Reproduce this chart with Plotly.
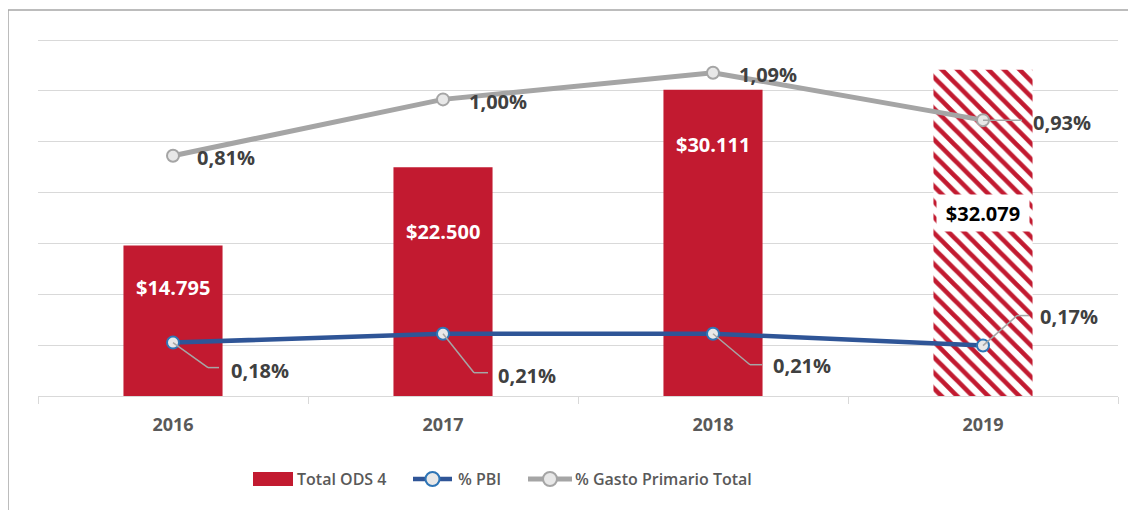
import plotly.graph_objects as go

# ---- data ----
years = ["2016", "2017", "2018", "2019"]
total_ods4 = [14795, 22500, 30111, 32079]
total_labels = ["$14.795", "$22.500", "$30.111", "$32.079"]
pct_pbi = [0.18, 0.21, 0.21, 0.17]
pct_gasto = [0.81, 1.00, 1.09, 0.93]
series_names = ["Total ODS 4", "% PBI", "% Gasto Primario Total"]

# ---- styles ----
RED = "#C21A30"
BLUE = "#2F5597"
BLUE_MK = "#2E75B6"
GRAY = "#A5A5A5"
MK_FILL = "#E8E8E8"
FONT = "Open Sans"
Y_TOP = 35300
PLOT_W = 1080.0
PLOT_H = 356.0 * Y_TOP / 35000
Y2_TOP = 1.2 * Y_TOP / 35000
PX_X = PLOT_W / 4          # px per category
PX_Y2 = PLOT_H / Y2_TOP    # px per percentage unit
bar_label_frac = [0.72, 0.72, 0.82, 0.56]
pbi_label_off = [(56, -28), (53, -42), (58, -32), (55, 29)]
gasto_label_off = [(22, -2), (24, -2), (24, -2), (48, -2)]
pbi_leader = [(35, -25, 46), (31, -39, 45), (37, -31, 49), (34, 30, 46)]
gasto_leader = [None, None, None, (0, 0, 39)]
# custom legend layout (px relative to plot-area left edge / bottom edge)
LEG_Y = -83
leg_rect = (215, 255)
leg_blue = (375, 414)
leg_gray = (490, 534)
leg_text_x = [257, 418, 535]
BORDER_ABOVE = 386  # px from plot bottom to top border line

fig = go.Figure()

fig.add_trace(go.Bar(
    x=years, y=total_ods4, name=series_names[0],
    width=0.367,
    marker=dict(
        color=RED, line=dict(width=0),
        pattern=dict(shape=["", "", "", "\\"], fgcolor=RED, bgcolor="white",
                     size=11, solidity=0.42, fillmode="replace"),
    ),
    hoverinfo="skip",
))

fig.add_trace(go.Scatter(
    x=years, y=pct_pbi, name=series_names[1], yaxis="y2", mode="lines+markers",
    line=dict(color=BLUE, width=4.5),
    marker=dict(size=12, color=MK_FILL, line=dict(color=BLUE_MK, width=2)),
))

fig.add_trace(go.Scatter(
    x=years, y=pct_gasto, name=series_names[2], yaxis="y2", mode="lines+markers",
    line=dict(color=GRAY, width=5),
    marker=dict(size=12, color=MK_FILL, line=dict(color=GRAY, width=2)),
))

annotations = []
shapes = []

def fmt(v):
    return f"{v:.2f}".replace(".", ",") + "%"

for i, yr in enumerate(years):
    if i < 3:
        annotations.append(dict(
            x=i, y=total_ods4[i] * bar_label_frac[i], xref="x", yref="y",
            text=total_labels[i], showarrow=False,
            font=dict(family=FONT, size=20, color="white", weight="bold"),
        ))
    else:
        annotations.append(dict(
            x=i, y=total_ods4[i] * bar_label_frac[i], xref="x", yref="y",
            text=total_labels[i], showarrow=False, bgcolor="white",
            width=90, height=34,
            font=dict(family=FONT, size=20, color="black", weight="bold"),
        ))
    dx, dy = pbi_label_off[i]
    annotations.append(dict(
        x=i, y=pct_pbi[i], xref="x", yref="y2", text=fmt(pct_pbi[i]),
        showarrow=False, xanchor="left", yanchor="middle", xshift=dx, yshift=dy,
        font=dict(family=FONT, size=20, color="#404040", weight="bold"),
    ))
    dx, dy = gasto_label_off[i]
    annotations.append(dict(
        x=i, y=pct_gasto[i], xref="x", yref="y2", text=fmt(pct_gasto[i]),
        showarrow=False, xanchor="left", yanchor="middle", xshift=dx, yshift=dy,
        font=dict(family=FONT, size=20, color="#404040", weight="bold"),
    ))
    for lead, vals in ((pbi_leader[i], pct_pbi), (gasto_leader[i], pct_gasto)):
        if lead is None:
            continue
        ex, ey, hx = lead
        x0, y0 = i, vals[i]
        x1, y1 = i + ex / PX_X, vals[i] + ey / PX_Y2
        x2 = i + hx / PX_X
        for (a, b, c, d) in ((x0, y0, x1, y1), (x1, y1, x2, y1)):
            if a == c and b == d:
                continue
            shapes.append(dict(type="line", xref="x", yref="y2",
                               x0=a, y0=b, x1=c, y1=d,
                               line=dict(color="#A6A6A6", width=1.5), layer="above"))

# ---- custom legend ----
def px(v):
    return v / PLOT_W

ly = LEG_Y / PLOT_H
shapes.append(dict(type="rect", xref="paper", yref="paper",
                   x0=px(leg_rect[0]), x1=px(leg_rect[1]),
                   y0=ly - 7 / PLOT_H, y1=ly + 7 / PLOT_H,
                   fillcolor=RED, line=dict(width=0)))
for (xa, xb), col, w, mkc in ((leg_blue, BLUE, 4.5, BLUE_MK), (leg_gray, GRAY, 5, GRAY)):
    shapes.append(dict(type="line", xref="paper", yref="paper",
                       x0=px(xa), x1=px(xb), y0=ly, y1=ly,
                       line=dict(color=col, width=w)))
    shapes.append(dict(type="circle", xref="paper", yref="paper",
                       xsizemode="pixel", ysizemode="pixel",
                       xanchor=px((xa + xb) / 2), yanchor=ly,
                       x0=-7, x1=7, y0=-7, y1=7,
                       fillcolor=MK_FILL, line=dict(color=mkc, width=2)))
for name, tx in zip(series_names, leg_text_x):
    annotations.append(dict(
        x=px(tx), y=ly, xref="paper", yref="paper", text=name, showarrow=False,
        xanchor="left", yanchor="middle",
        font=dict(family=FONT, size=16, color="#595959", weight=600),
    ))

# outer border (left and top visible)
shapes.append(dict(type="rect", xref="paper", yref="paper",
                   x0=-30 / PLOT_W, x1=1.2, y0=-0.6, y1=BORDER_ABOVE / PLOT_H,
                   line=dict(color="#A6A6A6", width=1.5), layer="below"))

fig.update_layout(
    width=1128, height=502, autosize=False,
    margin=dict(l=30, r=18, t=502 - 114 - round(PLOT_H), b=114),
    paper_bgcolor="white", plot_bgcolor="white",
    font=dict(family=FONT),
    showlegend=False,
    xaxis=dict(
        type="category", categoryorder="array", categoryarray=years,
        range=[-0.5, 3.5], showline=True, linecolor="#D9D9D9", linewidth=1,
        ticks="outside", tickson="boundaries", ticklen=7, tickcolor="#D9D9D9",
        ticklabelstandoff=12, tickangle=0,
        tickfont=dict(family=FONT, size=18, color="#595959", weight="bold"),
        showgrid=False, fixedrange=True,
    ),
    yaxis=dict(
        range=[0, Y_TOP], tick0=0, dtick=5000, showticklabels=False,
        showgrid=True, gridcolor="#D9D9D9", gridwidth=1, zeroline=False, fixedrange=True,
    ),
    yaxis2=dict(
        range=[0, Y2_TOP], overlaying="y", side="right", showticklabels=False,
        showgrid=False, zeroline=False, fixedrange=True,
    ),
    annotations=annotations,
    shapes=shapes,
)

fig.write_html("out.html")
